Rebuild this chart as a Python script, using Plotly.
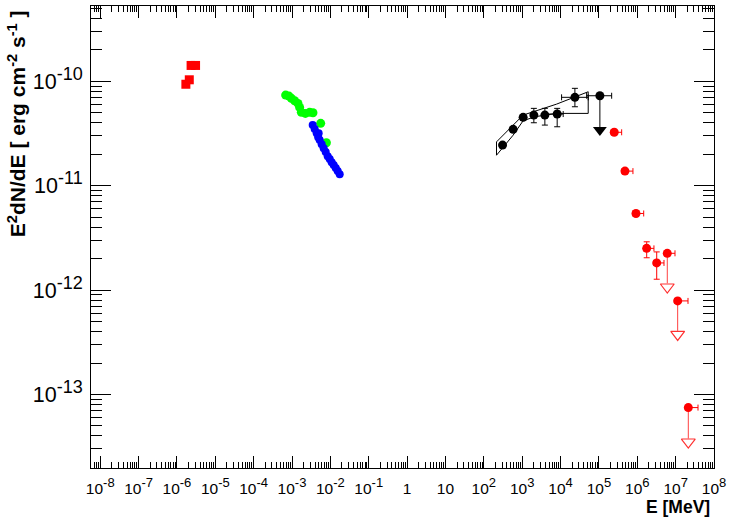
import plotly.graph_objects as go

# ---------------- data ----------------
# optical (red squares)
opt_E = [1.71e-6, 2.10e-6, 2.34e-6, 3.06e-6]
opt_F = [9.38e-11, 1.035e-10, 1.42e-10, 1.42e-10]

# soft X-ray (green)
sx_E = [6.82e-4, 8.32e-4, 9.62e-4, 1.17e-3, 1.43e-3, 1.58e-3, 1.75e-3, 2.23e-3,
        2.88e-3, 3.52e-3, 5.59e-3, 7.87e-3]
sx_F = [7.39e-11, 7.22e-11, 6.87e-11, 6.51e-11, 6.15e-11, 5.63e-11, 5.05e-11, 4.93e-11,
        5.05e-11, 5.00e-11, 3.96e-11, 2.58e-11]

# X-ray (blue)
hx_E = [3.46e-3, 3.90e-3, 4.40e-3, 4.81e-3, 4.95e-3, 5.26e-3, 5.93e-3, 6.69e-3, 7.55e-3,
        8.51e-3, 9.60e-3, 1.08e-2, 1.22e-2, 1.38e-2, 1.55e-2, 1.75e-2]
hx_F = [3.81e-11, 3.49e-11, 3.19e-11, 2.92e-11, 3.19e-11, 2.74e-11, 2.50e-11, 2.29e-11, 2.10e-11,
        1.92e-11, 1.80e-11, 1.68e-11, 1.58e-11, 1.48e-11, 1.38e-11, 1.29e-11]

# Fermi-LAT (black) detections
lat_E = [307.6, 581, 1059, 2014, 3899, 8166, 23660]
lat_F = [2.45e-11, 3.47e-11, 4.52e-11, 4.75e-11, 4.75e-11, 4.86e-11, 7.03e-11]
lat_Elo = [307.6, 581, 1059, 2014, 3899, 4325, 10640]
lat_Ehi = [307.6, 581, 1059, 2014, 3899, 11720, 52600]
lat_Flo = [2.35e-11, 3.30e-11, 4.25e-11, 4.01e-11, 3.81e-11, 3.67e-11, 5.71e-11]
lat_Fhi = [2.55e-11, 3.65e-11, 4.80e-11, 5.51e-11, 5.51e-11, 5.51e-11, 8.57e-11]

# Fermi-LAT upper limit
latUL_E = [1.06e5]
latUL_F = [7.28e-11]
latUL_Elo = [4.78e4]
latUL_Ehi = [2.15e5]
latUL_tip = [3.41e-11]

# Fermi-LAT butterfly (outline)
bt_E = [214, 581, 1059, 7889, 52600, 52600, 7889, 2138, 1059, 581, 214, 214]
bt_F = [2.63e-11, 3.81e-11, 4.75e-11, 6.05e-11, 7.95e-11, 4.93e-11, 4.93e-11, 4.58e-11,
        4.19e-11, 3.05e-11, 1.96e-11, 2.63e-11]

# VHE (red) detections
vhe_E = [2.51e5, 4.78e5, 9.25e5, 1.76e6, 3.21e6]
vhe_F = [3.25e-11, 1.38e-11, 5.42e-12, 2.51e-12, 1.82e-12]
vhe_Elo = [2.09e5, 3.99e5, 7.73e5, 1.47e6, 2.68e6]
vhe_Ehi = [3.92e5, 7.71e5, 1.47e6, 2.72e6, 4.97e6]
vhe_Flo = [3.25e-11, 1.38e-11, 5.42e-12, 2.04e-12, 1.27e-12]
vhe_Fhi = [3.25e-11, 1.38e-11, 5.42e-12, 2.90e-12, 2.32e-12]

# VHE (red) upper limits
vheUL_E = [6.06e6, 1.13e7, 2.14e7]
vheUL_F = [2.25e-12, 7.87e-13, 7.48e-14]
vheUL_Elo = [5.06e6, 9.46e6, 1.79e7]
vheUL_Ehi = [9.62e6, 2.10e7, 3.83e7]
vheUL_tip = [1.16e-12, 4.06e-13, 3.78e-14]
vheUL_tri = [1.07e-12, 3.76e-13, 3.50e-14]

# axes ticks
x_tickvals = [10.0 ** p for p in range(-8, 9)]
x_exps = ["-8", "-7", "-6", "-5", "-4", "-3", "-2", "-1", "", "", "2", "3", "4", "5", "6", "7", "8"]
x_plain = {8: "1", 9: "10"}
y_tickvals = [1e-13, 1e-12, 1e-11, 1e-10]
y_exps = ["-13", "-12", "-11", "-10"]

x_title = "<b>E [MeV]</b>"
y_title = "<b>E<sup>2</sup>dN/dE [ erg cm<sup>-2</sup> s<sup>-1</sup> ]</b>"


def pow_label(e, sup_px):
    return "10<sup><span style='font-size:%gpx'>%s</span></sup>" % (sup_px, e)


x_ticktext = [x_plain[i] if i in x_plain else pow_label(e, 13) for i, e in enumerate(x_exps)]
y_ticktext = [pow_label(e, 18) for e in y_exps]

# ---------------- figure ----------------
def diff(a, b):
    return [x - y for x, y in zip(a, b)]

fig = go.Figure()

fig.add_trace(go.Scatter(x=bt_E, y=bt_F, mode="lines",
                         line=dict(color="black", width=1)))

fig.add_trace(go.Scatter(x=opt_E, y=opt_F, mode="markers",
                         marker=dict(symbol="square", size=9, color="#ff0000")))
fig.add_trace(go.Scatter(x=sx_E, y=sx_F, mode="markers",
                         marker=dict(symbol="circle", size=9, color="#00ff00")))
fig.add_trace(go.Scatter(x=hx_E, y=hx_F, mode="markers",
                         marker=dict(symbol="circle", size=8, color="#0000ff")))

fig.add_trace(go.Scatter(
    x=lat_E, y=lat_F, mode="markers",
    marker=dict(symbol="circle", size=9, color="black"),
    error_x=dict(type="data", symmetric=False, array=diff(lat_Ehi, lat_E),
                 arrayminus=diff(lat_E, lat_Elo), color="black", thickness=1, width=3),
    error_y=dict(type="data", symmetric=False, array=diff(lat_Fhi, lat_F),
                 arrayminus=diff(lat_F, lat_Flo), color="black", thickness=1, width=3)))

fig.add_trace(go.Scatter(
    x=latUL_E, y=latUL_F, mode="markers",
    marker=dict(symbol="circle", size=9, color="black"),
    error_x=dict(type="data", symmetric=False, array=diff(latUL_Ehi, latUL_E),
                 arrayminus=diff(latUL_E, latUL_Elo), color="black", thickness=1, width=3),
    error_y=dict(type="data", symmetric=False, array=[0],
                 arrayminus=diff(latUL_F, latUL_tip), color="black", thickness=1, width=0)))
fig.add_trace(go.Scatter(x=latUL_E, y=latUL_tip, mode="markers",
                         marker=dict(symbol="triangle-down", size=12, color="black")))

fig.add_trace(go.Scatter(
    x=vhe_E, y=vhe_F, mode="markers",
    marker=dict(symbol="circle", size=9, color="#ff0000"),
    error_x=dict(type="data", symmetric=False, array=diff(vhe_Ehi, vhe_E),
                 arrayminus=diff(vhe_E, vhe_Elo), color="#ff0000", thickness=1, width=3),
    error_y=dict(type="data", symmetric=False, array=diff(vhe_Fhi, vhe_F),
                 arrayminus=diff(vhe_F, vhe_Flo), color="#ff0000", thickness=1, width=3)))

fig.add_trace(go.Scatter(
    x=vheUL_E, y=vheUL_F, mode="markers",
    marker=dict(symbol="circle", size=9, color="#ff0000"),
    error_x=dict(type="data", symmetric=False, array=diff(vheUL_Ehi, vheUL_E),
                 arrayminus=diff(vheUL_E, vheUL_Elo), color="#ff0000", thickness=1, width=3),
    error_y=dict(type="data", symmetric=False, array=[0, 0, 0],
                 arrayminus=diff(vheUL_F, vheUL_tip), color="#ff4040", thickness=1, width=0)))
fig.add_trace(go.Scatter(x=vheUL_E, y=vheUL_tri, mode="markers",
                         marker=dict(symbol="triangle-down-open", size=12, color="#ff3030",
                                     line=dict(width=1.2, color="#ff3030"))))

font = "Liberation Sans, Arial, Helvetica, sans-serif"
axis_common = dict(type="log", showgrid=False, zeroline=False, showline=True,
                   linecolor="black", linewidth=1, mirror="allticks", ticks="inside",
                   tickcolor="black", tickwidth=1, tickmode="array", automargin=False)

fig.update_layout(
    width=731, height=521,
    margin=dict(l=91, r=17, t=6, b=53),
    paper_bgcolor="white", plot_bgcolor="white",
    showlegend=False,
    xaxis=dict(axis_common, range=[-8.24, 8.0], tickvals=x_tickvals, ticktext=x_ticktext,
               ticklen=12, ticklabelstandoff=6,
               tickfont=dict(family=font, size=15.5, color="black"),
               minor=dict(ticks="inside", ticklen=6, tickcolor="black", dtick="D1",
                          showgrid=False)),
    yaxis=dict(axis_common, range=[-13.705, -9.278], tickvals=y_tickvals, ticktext=y_ticktext,
               ticklen=20, ticklabelstandoff=3,
               tickfont=dict(family=font, size=21.5, color="black"),
               minor=dict(ticks="inside", ticklen=11, tickcolor="black", dtick="D1",
                          showgrid=False)),
    annotations=[
        dict(text=x_title, xref="paper", yref="paper", x=0.997, y=-0.085,
             xanchor="right", yanchor="middle", showarrow=False,
             font=dict(family=font, size=17.5, color="black")),
        dict(text=y_title, xref="paper", yref="paper", x=-0.143, y=0.996, textangle=-90,
             xanchor="left", yanchor="top", showarrow=False,
             font=dict(family=font, size=21, color="black")),
    ],
)

fig.write_html("out.html", config={"displayModeBar": False},
               post_script="document.body.style.margin='0';document.body.style.padding='0';")
